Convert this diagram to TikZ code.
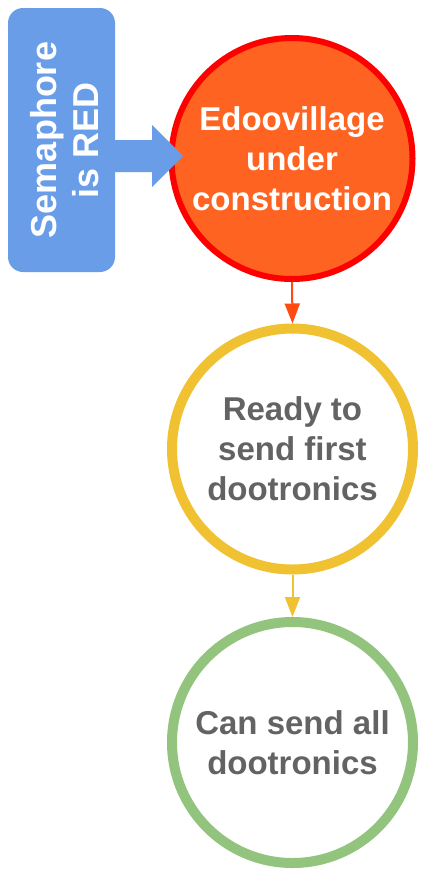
\documentclass[tikz,border=0pt]{standalone}
\usepackage{fontspec}
\setmainfont{Liberation Sans}
\usetikzlibrary{arrows.meta,calc}
\definecolor{semblue}{HTML}{6A9DE8}
\definecolor{orfill}{HTML}{FF6321}
\definecolor{redline}{HTML}{FF0000}
\definecolor{arrred}{HTML}{FF4A12}
\definecolor{yel}{HTML}{F0C232}
\definecolor{grn}{HTML}{92C47D}
\definecolor{txtgray}{HTML}{636363}
\tikzset{
  circ/.style={circle, minimum size=241pt, inner sep=0pt, align=center,
    font=\bfseries\fontsize{33}{40}\selectfont},
  flow/.style={line width=2pt, -{Triangle[width=15pt,length=20pt]}},
}
\begin{document}
\begin{tikzpicture}[x=1pt,y=-1pt]
\useasboundingbox[fill=white] (0,0) rectangle (431,881);
\node[fill=semblue, rounded corners=15pt, minimum width=107pt, minimum height=264pt, inner sep=0pt] (sem) at (61.5,140) {};
\node[rotate=90, text=white, align=center, inner sep=0pt, font=\bfseries\fontsize{36}{42}\selectfont] (semtxt) at (65,140) {Semaphore\\is RED};
\node[circ, draw=redline, fill=orfill, line width=6pt, text=white] (c1) at (292,158.5) {Edoovillage\\under\\construction};
\node[circ, draw=yel, fill=white, line width=10pt, text=txtgray] (c2) at (292.5,449) {Ready to\\send first\\dootronics};
\node[circ, draw=grn, fill=white, line width=10pt, text=txtgray] (c3) at (292.5,742.5) {Can send all\\dootronics};
\coordinate (atip) at (183,156);
\path (sem.east |- atip) coordinate (abase);
\fill[semblue] (abase) ++(-1,-16) -- ++(38,0) -- ++(0,-15) -- (atip) -- ($(abase)+(37,31)$) -- ++(0,-15) -- ++(-38,0) -- cycle;
\draw[flow, draw=arrred, fill=arrred] (c1.south) -- (c2.north);
\draw[flow, draw=yel, fill=yel] (c2.south) -- (c3.north);
\end{tikzpicture}
\end{document}
